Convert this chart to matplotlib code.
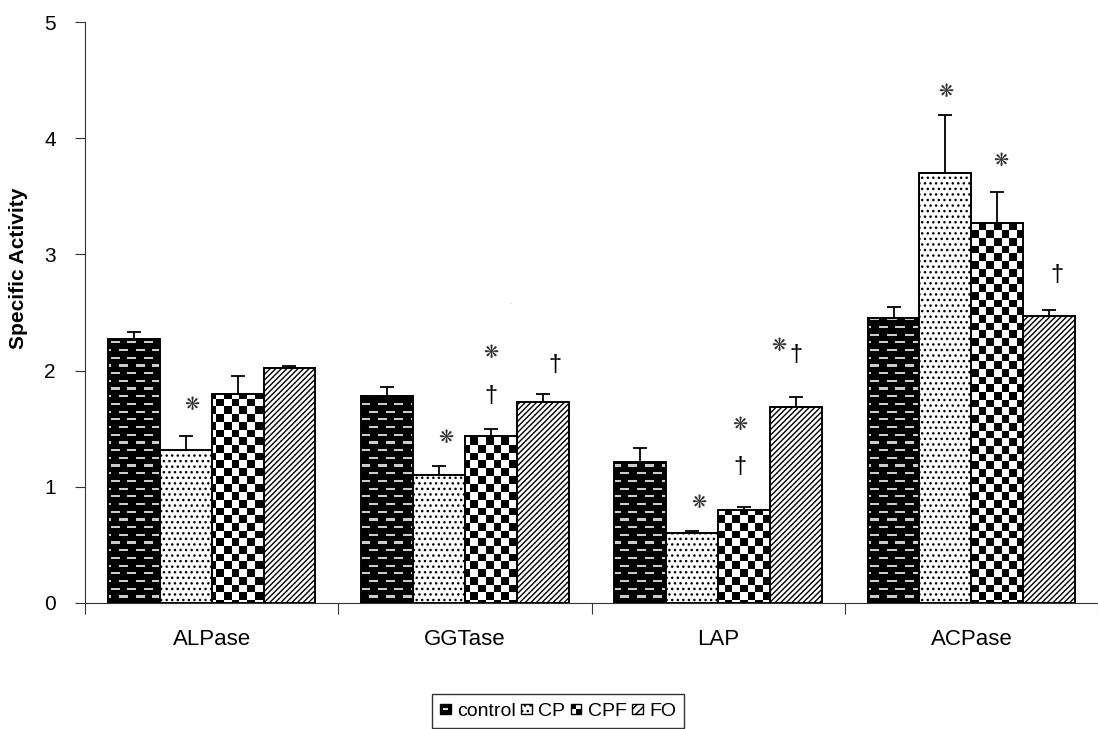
import matplotlib
matplotlib.use('Agg')
import matplotlib.pyplot as plt
import numpy as np
from matplotlib.patches import Rectangle, Patch
from matplotlib.legend_handler import HandlerBase

plt.rcParams['font.family'] = ['Liberation Sans', 'DejaVu Sans']
plt.rcParams['hatch.linewidth'] = 1.0

# data
categories = ['ALPase', 'GGTase', 'LAP', 'ACPase']
groups = ['control', 'CP', 'CPF', 'FO']
control = [2.27, 1.78, 1.21, 2.45]
control_err = [0.06, 0.08, 0.12, 0.10]
cp = [1.32, 1.10, 0.60, 3.70]
cp_err = [0.12, 0.08, 0.02, 0.50]
cpf = [1.80, 1.44, 0.80, 3.27]
cpf_err = [0.15, 0.06, 0.03, 0.27]
fo = [2.02, 1.73, 1.69, 2.47]
fo_err = [0.02, 0.07, 0.08, 0.05]

# significance marks: category, group, symbol
marks = [(0, 1, '*'), (1, 1, '*'), (1, 2, '*'), (1, 2, '+'), (1, 3, '+'),
         (2, 1, '*'), (2, 2, '*'), (2, 2, '+'), (2, 3, '*'), (2, 3, '+'),
         (3, 1, '*'), (3, 2, '*'), (3, 3, '+')]
# where each mark sits (x shift in category units, y in data units)
mark_pos = [(0.025, 1.70), (0.027, 1.42), (0.0, 2.15), (0.0, 1.78), (0.047, 2.05),
            (0.027, 0.86), (-0.015, 1.53), (-0.015, 1.17), (-0.066, 2.21), (0.0, 2.13),
            (0.0, 4.40), (0.012, 3.80), (0.03, 2.82)]

W, H = 1098, 729
fig = plt.figure(figsize=(W / 100, H / 100), dpi=100)
ax_l, ax_b, ax_w, ax_h = 85, 603, 1013, 581
ax = fig.add_axes([ax_l / W, 1 - ax_b / H, ax_w / W, ax_h / H])

cat_px = 257.0
ax.set_xlim(-0.5, -0.5 + ax_w / cat_px)
ax.set_ylim(0, 5)

width = 0.205
offsets = (np.arange(4) - 1.5) * width
x = np.arange(len(categories))
series = [(control, control_err), (cp, cp_err), (cpf, cpf_err), (fo, fo_err)]
hatches = [None, '...', None, '//////']

# pixel textures for the control (dashes) and CPF (checkerboard) bars
yy, xx = np.mgrid[0:ax_h, 0:ax_w]
s = 7.7
checker = ((np.floor(xx / s) + np.floor(yy / s)) % 2).astype(float)
row = np.floor(yy / s)
phase = (xx + (row % 2) * 8.35) % 16.7
dash = ((yy % s) >= 3) & ((yy % s) < 5.2) & (phase < 9)
dashes = np.where(dash, 0.8, 0.0)

for j, (vals, errs) in enumerate(series):
    bars = ax.bar(x + offsets[j], vals, width, facecolor='white' if j in (1, 3) else 'none',
                  edgecolor='black', linewidth=1.4, hatch=hatches[j], zorder=3)
    ax.errorbar(x + offsets[j], vals, yerr=[np.zeros(len(errs)), errs], fmt='none',
                ecolor='black', elinewidth=1.3, capsize=5, capthick=1.3, zorder=4)
    if j in (0, 2):
        tex = dashes if j == 0 else checker
        for b in bars:
            im = ax.imshow(tex, cmap='gray', vmin=0, vmax=1, interpolation='nearest',
                           extent=(0, 1, 0, 1), transform=ax.transAxes, aspect='auto',
                           origin='upper', zorder=2)
            im.set_clip_path(b)

for (i, j, sym), (dx, yv) in zip(marks, mark_pos):
    if sym == '*':
        ax.text(x[i] + offsets[j] + dx, yv, '\u274B', ha='center', va='center',
                fontsize=13, color='#333333', family=['DejaVu Sans'], zorder=5)
    else:
        ax.text(x[i] + offsets[j] + dx, yv, '\u2020', ha='center', va='center',
                fontsize=17, color='black', zorder=5)
ax.text(1.18, 2.59, '.', fontsize=5, color='#888888', ha='center', va='center')

# axes styling
for sp in ['top', 'right']:
    ax.spines[sp].set_visible(False)
ax.spines['left'].set_color('#333333')
ax.spines['bottom'].set_color('#333333')
ax.set_yticks(range(6))
ax.tick_params(axis='y', direction='out', length=7, labelsize=15, pad=14, color='#333333')
ax.set_xticks(np.arange(len(categories) + 1) - 0.5)
ax.set_xticklabels([])
ax.set_xticks(x, minor=True)
ax.set_xticklabels(categories, minor=True)
ax.tick_params(axis='x', which='major', direction='out', length=8, color='#333333')
ax.tick_params(axis='x', which='minor', length=0, labelsize=16, pad=19)

fig.text(19 / W, 1 - 268 / H, 'Specific Activity', rotation=90, ha='center', va='center',
         fontsize=15, fontweight='bold')


class Checker(HandlerBase):
    def create_artists(self, legend, orig, xd, yd, w, h, fs, trans):
        sz = h * 0.8
        x0 = xd + (w - sz) / 2
        y0 = yd + (h - sz) / 2
        out = [Rectangle((x0, y0), sz, sz, facecolor='white', edgecolor='black',
                         lw=1.0, transform=trans)]
        out.append(Rectangle((x0, y0 + sz / 2), sz / 2, sz / 2, facecolor='black',
                             lw=0, transform=trans))
        out.append(Rectangle((x0 + sz / 2, y0), sz / 2, sz / 2, facecolor='black',
                             lw=0, transform=trans))
        return out


class DashBox(HandlerBase):
    def create_artists(self, legend, orig, xd, yd, w, h, fs, trans):
        sz = h * 0.8
        x0 = xd + (w - sz) / 2
        y0 = yd + (h - sz) / 2
        r = Rectangle((x0, y0), sz, sz, facecolor='black', edgecolor='black',
                      lw=1.0, transform=trans)
        d = Rectangle((x0 + sz * 0.25, y0 + sz * 0.42), sz * 0.5, sz * 0.16,
                      facecolor='#dddddd', lw=0, transform=trans)
        return [r, d]


class HatchBox(HandlerBase):
    def create_artists(self, legend, orig, xd, yd, w, h, fs, trans):
        sz = h * 0.8
        x0 = xd + (w - sz) / 2
        y0 = yd + (h - sz) / 2
        r = Rectangle((x0, y0), sz, sz, facecolor='white', edgecolor='black',
                      hatch=orig.get_hatch(), lw=1.0, transform=trans)
        return [r]


h_ctrl = Patch(label='control')
h_cp = Patch(hatch='...', label='CP')
h_cpf = Patch(label='CPF')
h_fo = Patch(hatch='////', label='FO')
leg = fig.legend([h_ctrl, h_cp, h_cpf, h_fo], groups, loc='lower center',
                 bbox_to_anchor=(0.508, -0.006), ncol=4, frameon=True, fancybox=False,
                 fontsize=14, handlelength=0.6, handletextpad=0.3, columnspacing=0.25,
                 borderpad=0.4, borderaxespad=0.3,
                 handler_map={h_ctrl: DashBox(), h_cp: HatchBox(),
                              h_cpf: Checker(), h_fo: HatchBox()})
leg.get_frame().set_edgecolor('black')
leg.get_frame().set_linewidth(1.0)

fig.savefig('out.png', dpi=100)
